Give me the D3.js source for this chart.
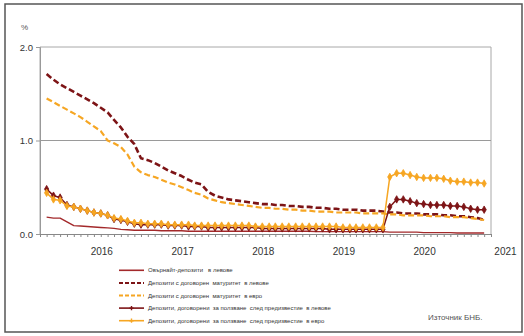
<!DOCTYPE html>
<html>
<head>
<meta charset="utf-8">
<script src="https://cdn.jsdelivr.net/npm/d3@7"></script>
<style>
  body { margin: 0; background: #fff; }
  svg { display: block; font-family: "Liberation Sans", Arial, sans-serif; }
</style>
</head>
<body>
<svg id="chart" width="524" height="336"></svg>
<script>
// monthly observations, May 2015 - Oct 2020
const firstMonth = new Date(2015, 4, 1);
const lastMonth = new Date(2020, 9, 1);
const yearLabels = [2016, 2017, 2018, 2019, 2020, 2021];
const yTicks = [0, 1, 2];

const seriesNames = [
  "Овърнайт-депозити   в левове",
  "Депозити с договорен  матуритет  в левове",
  "Депозити с договорен  матуритет  в евро",
  "Депозити, договорени  за ползване  след предизвестие  в левове",
  "Депозити, договорени  за ползване  след предизвестие  в евро"
];

const overnightLeva = [
  0.18, 0.17, 0.17, 0.13, 0.09, 0.085, 0.08, 0.075, 0.07, 0.065,
  0.06, 0.05, 0.045, 0.04, 0.04, 0.04, 0.04, 0.035, 0.035, 0.035,
  0.035, 0.03, 0.03, 0.03, 0.03, 0.03, 0.03, 0.03, 0.03, 0.03,
  0.03, 0.03, 0.03, 0.03, 0.03, 0.03, 0.03, 0.03, 0.03, 0.03,
  0.025, 0.025, 0.025, 0.025, 0.025, 0.025, 0.025, 0.025, 0.025, 0.025,
  0.025, 0.02, 0.02, 0.02, 0.02, 0.02, 0.015, 0.015, 0.015, 0.015,
  0.015, 0.01, 0.01, 0.01, 0.01, 0.01
];
const termLeva = [
  1.71, 1.65, 1.60, 1.56, 1.52, 1.48, 1.44, 1.40, 1.35, 1.30,
  1.22, 1.14, 1.04, 0.96, 0.81, 0.79, 0.76, 0.72, 0.68, 0.65,
  0.62, 0.58, 0.55, 0.53, 0.45, 0.41, 0.39, 0.37, 0.36, 0.35,
  0.34, 0.33, 0.32, 0.32, 0.31, 0.31, 0.30, 0.30, 0.29, 0.29,
  0.28, 0.28, 0.27, 0.27, 0.26, 0.26, 0.26, 0.25, 0.25, 0.25,
  0.24, 0.23, 0.23, 0.22, 0.22, 0.22, 0.21, 0.21, 0.21, 0.20,
  0.20, 0.19, 0.19, 0.18, 0.17, 0.15
];
const termEuro = [
  1.45, 1.41, 1.37, 1.33, 1.29, 1.25, 1.20, 1.15, 1.10, 1.00,
  0.97, 0.93, 0.85, 0.72, 0.66, 0.63, 0.61, 0.58, 0.55, 0.53,
  0.50, 0.47, 0.44, 0.42, 0.38, 0.36, 0.34, 0.33, 0.32, 0.31,
  0.30, 0.29, 0.28, 0.28, 0.27, 0.27, 0.26, 0.26, 0.25, 0.25,
  0.24, 0.24, 0.24, 0.23, 0.23, 0.23, 0.23, 0.22, 0.22, 0.22,
  0.22, 0.21, 0.21, 0.20, 0.20, 0.20, 0.20, 0.19, 0.19, 0.19,
  0.18, 0.18, 0.18, 0.17, 0.16, 0.15
];
const noticeLeva = [
  0.48, 0.41, 0.39, 0.31, 0.29, 0.27, 0.25, 0.23, 0.22, 0.20,
  0.16, 0.15, 0.13, 0.11, 0.10, 0.10, 0.10, 0.10, 0.09, 0.09,
  0.09, 0.08, 0.08, 0.08, 0.07, 0.07, 0.07, 0.07, 0.07, 0.07,
  0.07, 0.07, 0.06, 0.06, 0.06, 0.06, 0.06, 0.06, 0.06, 0.06,
  0.06, 0.06, 0.05, 0.05, 0.05, 0.05, 0.05, 0.05, 0.05, 0.05,
  0.05, 0.29, 0.37, 0.37, 0.35, 0.33, 0.32, 0.31, 0.31, 0.31,
  0.30, 0.30, 0.29, 0.27, 0.26, 0.26
];
const noticeEuro = [
  0.44, 0.37, 0.36, 0.30, 0.29, 0.27, 0.25, 0.23, 0.22, 0.20,
  0.17, 0.16, 0.14, 0.12, 0.12, 0.11, 0.11, 0.11, 0.10, 0.10,
  0.10, 0.10, 0.09, 0.09, 0.09, 0.09, 0.09, 0.09, 0.09, 0.09,
  0.09, 0.08, 0.08, 0.08, 0.08, 0.08, 0.08, 0.08, 0.08, 0.08,
  0.08, 0.08, 0.08, 0.08, 0.07, 0.07, 0.07, 0.07, 0.07, 0.07,
  0.07, 0.61, 0.65, 0.65, 0.63, 0.61, 0.60, 0.60, 0.60, 0.59,
  0.57, 0.56, 0.56, 0.55, 0.55, 0.54
];

const months = d3.timeMonth.range(firstMonth, d3.timeMonth.offset(lastMonth, 1));

const series = [
  { name: seriesNames[0], values: overnightLeva, color: "#a3292b", width: 1.4, dash: null, marker: false },
  { name: seriesNames[1], values: termLeva, color: "#7d1416", width: 2.6, dash: "6,3", marker: false },
  { name: seriesNames[2], values: termEuro, color: "#f6a623", width: 2.2, dash: "6,3", marker: false },
  { name: seriesNames[3], values: noticeLeva, color: "#7d1416", width: 1.5, dash: null, marker: true },
  { name: seriesNames[4], values: noticeEuro, color: "#f6a623", width: 1.5, dash: null, marker: true }
];

const svg = d3.select("#chart");

// outer frame
svg.append("rect")
  .attr("x", 5).attr("y", 4)
  .attr("width", 517).attr("height", 328)
  .attr("fill", "none")
  .attr("stroke", "#555")
  .attr("stroke-width", 1.5);

const plotLeft = 40, plotRight = 491, plotTop = 47, plotBottom = 234;

const x = d3.scaleTime()
  .domain([new Date(2015, 3, 1), new Date(2020, 10, 1)])
  .range([plotLeft, plotRight]);
const y = d3.scaleLinear().domain([0, 2]).range([plotBottom, plotTop]);

// plot box and gridline
svg.append("path")
  .attr("d", `M${plotLeft},${plotBottom}V${plotTop}H${plotRight}V${plotBottom}`)
  .attr("fill", "none").attr("stroke", "#a8a8a8").attr("stroke-width", 1);
svg.append("line")
  .attr("x1", plotLeft).attr("x2", plotRight)
  .attr("y1", y(1)).attr("y2", y(1))
  .attr("stroke", "#9a9a9a").attr("stroke-width", 1);

// y axis
const yAxis = svg.append("g")
  .attr("transform", `translate(${plotLeft},0)`)
  .call(d3.axisLeft(y).tickValues(yTicks).tickFormat(d3.format(".1f")).tickSize(4).tickPadding(3));
yAxis.select(".domain").attr("stroke", "#999");
yAxis.selectAll("line").attr("stroke", "#999");
yAxis.selectAll("text").attr("fill", "#333").style("font-size", "9.5px")
  .style("font-family", "Liberation Sans, Arial, sans-serif");

svg.append("text")
  .attr("x", 21).attr("y", 30)
  .attr("fill", "#555")
  .style("font-size", "8px")
  .text("%");

// x axis, monthly ticks
const xAxis = svg.append("g")
  .attr("transform", `translate(0,${plotBottom})`)
  .call(d3.axisBottom(x).ticks(d3.timeMonth.every(1)).tickFormat("").tickSize(3).tickSizeOuter(0));
xAxis.select(".domain").attr("stroke", "#888");
xAxis.selectAll("line").attr("stroke", "#888");

svg.selectAll(".year-label")
  .data(yearLabels)
  .enter()
  .append("text")
  .attr("class", "year-label")
  .attr("x", d => x(new Date(d, 0, 1)) + 1)
  .attr("y", 255)
  .attr("text-anchor", "middle")
  .attr("fill", "#333")
  .style("font-size", "10px")
  .text(d => d);

// series
const line = d3.line()
  .x((d, i) => x(months[i]))
  .y(d => y(d));

const diamond = d3.symbol().type(d3.symbolDiamond).size(16);

series.forEach(s => {
  svg.append("path")
    .datum(s.values)
    .attr("d", line)
    .attr("fill", "none")
    .attr("stroke", s.color)
    .attr("stroke-width", s.width)
    .attr("stroke-dasharray", s.dash)
    .attr("stroke-linejoin", "round");
  if (s.marker) {
    svg.append("g")
      .selectAll("path")
      .data(s.values)
      .enter()
      .append("path")
      .attr("d", diamond)
      .attr("transform", (d, i) => `translate(${x(months[i])},${y(d)})`)
      .attr("fill", s.color)
      .attr("stroke", s.color)
      .attr("stroke-width", 0.8);
  }
});

// legend
const legendY = d3.scaleBand().domain(d3.range(series.length)).range([264, 327]);
const legend = svg.append("g");
series.forEach((s, i) => {
  const ly = legendY(i) + legendY.bandwidth() / 2;
  legend.append("line")
    .attr("x1", 119).attr("x2", 144)
    .attr("y1", ly).attr("y2", ly)
    .attr("stroke", s.color)
    .attr("stroke-width", s.dash ? 2 : 1.6)
    .attr("stroke-dasharray", s.dash ? "4,2" : null);
  if (s.marker) {
    legend.append("path")
      .attr("d", d3.symbol().type(d3.symbolCross).size(10))
      .attr("transform", `translate(131.5,${ly})`)
      .attr("fill", s.color);
  }
  legend.append("text")
    .attr("x", 148).attr("y", ly)
    .attr("dy", "0.35em")
    .attr("fill", "#333")
    .style("font-size", "6px")
    .style("white-space", "pre")
    .text(s.name);
});

svg.append("text")
  .attr("x", 428).attr("y", 320)
  .attr("fill", "#555")
  .style("font-size", "8px")
  .text("Източник БНБ.");
</script>
</body>
</html>
